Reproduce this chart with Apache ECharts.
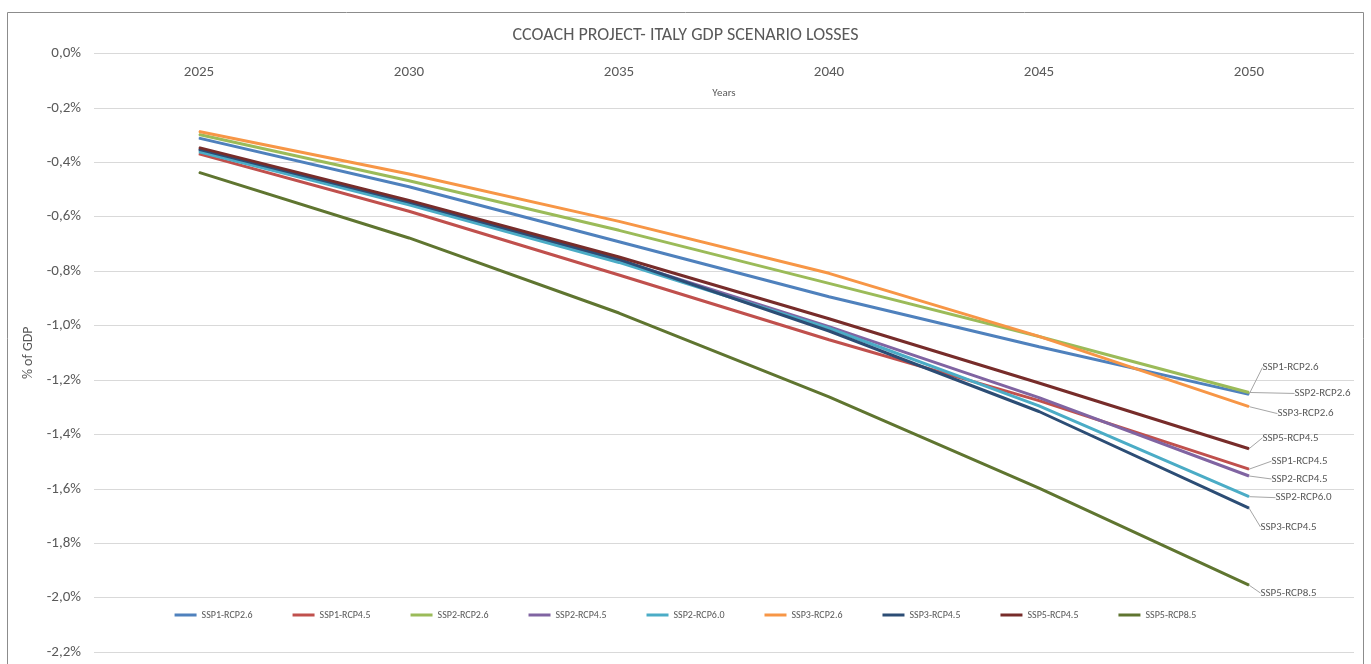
<!DOCTYPE html>
<html>
<head>
<meta charset="utf-8">
<script src="https://cdn.jsdelivr.net/npm/echarts@6/dist/echarts.min.js"></script>
<style>
html,body{margin:0;padding:0;background:#fff;}
#chart{width:1371px;height:664px;}
</style>
</head>
<body>
<div id="chart"></div>
<script>
const years = ['2025', '2030', '2035', '2040', '2045', '2050'];
const seriesNames = ['SSP1-RCP2.6', 'SSP1-RCP4.5', 'SSP2-RCP2.6', 'SSP2-RCP4.5', 'SSP2-RCP6.0', 'SSP3-RCP2.6', 'SSP3-RCP4.5', 'SSP5-RCP4.5', 'SSP5-RCP8.5'];
const ssp1_rcp26 = [-0.311, -0.490, -0.692, -0.894, -1.078, -1.253];
const ssp1_rcp45 = [-0.369, -0.580, -0.814, -1.052, -1.276, -1.528];
const ssp2_rcp26 = [-0.298, -0.468, -0.650, -0.845, -1.040, -1.246];
const ssp2_rcp45 = [-0.354, -0.548, -0.760, -1.004, -1.265, -1.553];
const ssp2_rcp60 = [-0.361, -0.556, -0.768, -1.010, -1.295, -1.629];
const ssp3_rcp26 = [-0.287, -0.443, -0.617, -0.808, -1.040, -1.298];
const ssp3_rcp45 = [-0.352, -0.546, -0.757, -1.020, -1.316, -1.671];
const ssp5_rcp45 = [-0.346, -0.540, -0.748, -0.975, -1.211, -1.453];
const ssp5_rcp85 = [-0.437, -0.678, -0.954, -1.262, -1.598, -1.954];
const allValues = [ssp1_rcp26, ssp1_rcp45, ssp2_rcp26, ssp2_rcp45, ssp2_rcp60, ssp3_rcp26, ssp3_rcp45, ssp5_rcp45, ssp5_rcp85];

const colors = ['#4F81BD', '#C0504D', '#9BBB59', '#8064A2', '#4BACC6', '#F79646', '#2C4D75', '#772C2A', '#5F7530'];
// label offsets (dx, dy) relative to default 'right' label position
const labelOffsets = [[8, -27], [17, -8], [40, 1], [17, 3], [21, 1], [23, 7], [6, 19], [8, -11], [6, 8]];

const textColor = '#595959';
const font = 'Calibri, Carlito, "Open Sans", "Liberation Sans", sans-serif';

const series = seriesNames.map((name, i) => ({
  name: name,
  type: 'line',
  showSymbol: true,
  symbol: 'circle',
  symbolSize: 1,
  lineStyle: { width: 3, color: colors[i] },
  itemStyle: { color: colors[i] },
  label: { show: false },
  data: allValues[i].map((v, j) => j === allValues[i].length - 1
    ? { value: v, label: { show: true, position: 'right', distance: 5, formatter: name, color: textColor, fontSize: 11, fontFamily: font } }
    : v),
  labelLine: { show: true, lineStyle: { color: '#A6A6A6', width: 1 } },
  labelLayout: { dx: labelOffsets[i][0], dy: labelOffsets[i][1] },
  z: 2 + i
}));

const chart = echarts.init(document.getElementById('chart'));
chart.setOption({
  animation: false,
  backgroundColor: '#fff',
  textStyle: { fontFamily: font },
  title: {
    text: 'CCOACH PROJECT- ITALY GDP SCENARIO LOSSES',
    left: 'center',
    top: 21,
    textStyle: { color: textColor, fontSize: 18, fontWeight: 'normal', fontFamily: font }
  },
  graphic: [{
    type: 'rect',
    shape: { x: 7.5, y: 12.5, width: 1356, height: 660 },
    style: { fill: 'none', stroke: '#8C8C8C', lineWidth: 1 },
    silent: true
  }],
  legend: {
    bottom: 39,
    left: 'center',
    icon: 'rect',
    itemWidth: 22,
    itemHeight: 3,
    itemGap: 40,
    textStyle: { color: textColor, fontSize: 10, fontFamily: font },
    data: seriesNames
  },
  grid: { left: 94, right: 17, top: 53.5, bottom: 12, containLabel: false },
  xAxis: {
    type: 'category',
    position: 'top',
    data: years,
    boundaryGap: true,
    name: 'Years',
    nameLocation: 'middle',
    nameGap: -45,
    nameTextStyle: { color: textColor, fontSize: 11, fontFamily: font },
    axisLine: { show: false },
    axisTick: { show: false },
    axisLabel: { inside: true, margin: 11, color: textColor, fontSize: 15, fontFamily: font },
    splitLine: { show: false }
  },
  yAxis: {
    type: 'value',
    min: -2.2,
    max: 0,
    interval: 0.2,
    name: '% of GDP',
    nameLocation: 'middle',
    nameGap: 58,
    nameTextStyle: { color: textColor, fontSize: 14, fontFamily: font },
    axisLine: { show: false },
    axisTick: { show: false },
    axisLabel: {
      margin: 13,
      color: textColor,
      fontSize: 15,
      fontFamily: font,
      formatter: v => (Math.abs(v) < 1e-9 ? '0,0' : v.toFixed(1).replace('.', ',')) + '%'
    },
    splitLine: { lineStyle: { color: '#D9D9D9', width: 1 } }
  },
  series: series
});
</script>
</body>
</html>
